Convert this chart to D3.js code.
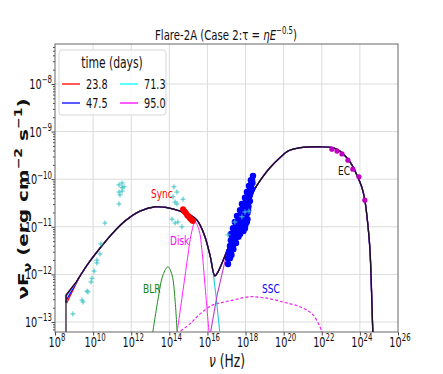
<html>
<head>
  <title>Flare-2A SED</title>
  <meta charset="utf-8" />
<script src="https://d3js.org/d3.v7.min.js"></script>
</head>
<style>
  body { margin: 0; background: #fff; }
  svg { display: block; }
  text { font-family: "DejaVu Sans", sans-serif; }
</style>
<body>
<svg class="main" width="443" height="374"></svg>
<script>

// all values are log10(nu / Hz), log10(nuFnu / erg cm^-2 s^-1)
const xTicks = [8, 10, 12, 14, 16, 18, 20, 22, 24, 26]
const yTicks = [-13, -12, -11, -10, -9, -8]

const times = ["23.8", "47.5", "71.3", "95.0"]
const timeColors = ["#ff0000", "#0000ff", "#00ffff", "#ff00ff"]

// low-frequency start of each time curve (they merge after that)
const startRed     = [[8.58, -13.5], [8.58, -12.63], [9.2, -12.12]]
const startBlue    = [[8.58, -13.5], [8.58, -12.55], [9.2, -12.12]]
const startCyan    = [[8.58, -13.5], [8.58, -12.48], [9.2, -12.12]]
const startMagenta = [[8.58, -13.5], [8.58, -12.45], [9.2, -12.12]]
const startBlack   = [[8.58, -13.5], [8.58, -12.43], [9.15, -12.14]]

const totalModel = [
  [9.15, -12.14], [9.73, -11.78], [10.36, -11.45], [10.99, -11.15], [11.67, -10.88],
  [12.46, -10.67], [13.25, -10.58], [14.03, -10.61], [14.56, -10.67],
  [15.08, -10.75], [15.45, -10.86], [15.61, -10.96], [15.87, -11.21], [16.13, -11.59],
  [16.39, -12.03], [16.55, -11.95], [17.08, -11.45], [17.44, -11.11], [17.97, -10.65],
  [18.39, -10.27], [18.85, -9.98], [19.28, -9.76], [19.8, -9.55], [20.22, -9.41],
  [20.85, -9.34], [21.9, -9.32], [22.59, -9.34], [22.95, -9.41], [23.32, -9.55],
  [23.58, -9.7], [23.84, -9.91], [24.11, -10.18], [24.26, -10.44], [24.42, -10.96],
  [24.53, -11.49], [24.68, -13.21], [24.72, -13.5]
]
const syncTail = [[16.13, -11.59], [16.24, -11.76], [16.45, -12.45], [16.72, -13.5]]
const ecRise   = [[16.04, -13.5], [16.5, -12.45], [17.08, -11.45]]
const blr  = [[13.1, -13.3], [13.4, -12.54], [13.67, -12.01], [13.93, -11.84], [14.14, -12.01], [14.3, -12.54], [14.42, -13.3]]
const disk = [[14.38, -13.3], [14.72, -12.33], [14.98, -11.59], [15.14, -11.17], [15.35, -10.9],
              [15.56, -11.07], [15.71, -11.49], [15.87, -12.22], [16.1, -13.3]]
const ssc  = [[14.38, -13.25], [15.08, -13.04], [15.61, -12.83], [16.29, -12.64], [16.66, -12.6],
              [17.34, -12.54], [18.23, -12.47], [19.12, -12.5], [19.96, -12.58], [20.85, -12.68],
              [21.54, -12.85], [22.06, -13.25]]

// data
const optX = [14.72, 14.77, 14.82, 14.87, 14.93, 14.98, 15.03, 15.08, 15.14, 15.19, 15.24]
const optY = [-10.63, -10.67, -10.69, -10.71, -10.75, -10.77, -10.79, -10.82, -10.84, -10.86, -10.88]

const xrayX = [17.08, 17.08, 17.18, 17.13, 17.23, 17.18, 17.29, 17.34, 17.23, 17.34, 17.44,
               17.23, 17.39, 17.55, 17.71, 17.34, 17.5, 17.65, 17.81, 17.97,
               17.44, 17.6, 17.76, 17.92, 18.07, 17.55, 17.71, 17.86, 18.02,
               17.71, 17.86, 18.02, 18.13, 17.81, 17.97, 18.13, 17.97, 18.07, 18.18,
               18.07, 18.18, 18.28, 18.18, 18.28, 18.28, 18.34, 18.39,
               17.16, 17.26, 17.21, 17.36, 17.29, 17.39, 17.5, 17.31, 17.47, 17.63,
               17.42, 17.58, 17.73, 17.89, 17.52, 17.68, 17.84, 17.99,
               17.63, 17.79, 17.94, 18.1, 17.79, 17.94, 18.1, 17.89, 18.05, 18.15,
               18.02, 18.13, 18.23, 18.13, 18.23, 18.23, 18.34, 18.31, 18.36]
const xrayY = [-11.78, -11.66, -11.66, -11.53, -11.53, -11.4, -11.4, -11.4, -11.28, -11.28, -11.28,
               -11.15, -11.15, -11.15, -11.15, -11.03, -11.03, -11.03, -11.03, -11.03,
               -10.9, -10.9, -10.9, -10.9, -10.9, -10.77, -10.77, -10.77, -10.77,
               -10.65, -10.65, -10.65, -10.65, -10.52, -10.52, -10.52, -10.39, -10.39, -10.39,
               -10.27, -10.27, -10.27, -10.14, -10.14, -10.02, -10.02, -9.93,
               -11.59, -11.59, -11.47, -11.47, -11.34, -11.34, -11.34, -11.21, -11.21, -11.21,
               -11.09, -11.09, -11.09, -11.09, -10.96, -10.96, -10.96, -10.96,
               -10.84, -10.84, -10.84, -10.84, -10.71, -10.71, -10.71, -10.58, -10.58, -10.58,
               -10.46, -10.46, -10.46, -10.33, -10.33, -10.21, -10.21, -10.08, -10.08]

const gammaX = [22.53, 22.8, 23.06, 23.37, 23.63, 23.95, 24.26]
const gammaY = [-9.37, -9.41, -9.47, -9.6, -9.79, -9.95, -10.44]

const archX = [8.94, 9.42, 9.47, 9.68, 9.73, 9.89, 9.94, 10.05, 10.2, 10.2, 10.36, 10.41, 10.62,
               11.36, 11.52, 11.52, 11.36, 11.52, 11.41, 11.36, 11.62,
               14.24, 14.4, 14.19, 14.3, 14.4, 14.72, 14.14, 14.3, 14.45, 14.66,
               17.08, 17.44, 17.81, 17.97, 18.18]
const archY = [-12.83, -12.54, -12.58, -12.35, -12.37, -12.16, -12.08, -11.93, -11.76, -11.7, -11.57, -11.36, -10.92,
               -10.12, -10.08, -10.18, -10.27, -10.25, -10.33, -10.52, -10.16,
               -10.16, -10.27, -10.37, -10.48, -10.52, -10.42, -10.84, -10.92, -10.9, -11.0,
               -11.17, -10.9, -10.79, -10.69, -10.67]

const svg = d3.select("svg")
const mLeft = 55, mRight = 398, mTop = 44, mBottom = 332
const sx = 0.72  // glyphs in the reference are squeezed horizontally

const x = d3.scaleLog().domain([1e8, 1e26]).range([mLeft, mRight])
const y = d3.scaleLog().domain([Math.pow(10, -13.21), Math.pow(10, -7.16)]).range([mBottom, mTop])
const px = v => x(Math.pow(10, v))
const py = v => y(Math.pow(10, v))

svg.append("defs").append("clipPath").attr("id", "plot")
  .append("rect").attr("x", mLeft).attr("y", mTop).attr("width", mRight - mLeft).attr("height", mBottom - mTop)

// grid
svg.append("g").selectAll("line").data(xTicks.slice(1, -1)).enter().append("line")
  .attr("x1", d => px(d)).attr("x2", d => px(d)).attr("y1", mTop).attr("y2", mBottom)
  .style("stroke", "#dcdcdc")
svg.append("g").selectAll("line").data(yTicks).enter().append("line")
  .attr("y1", d => py(d)).attr("y2", d => py(d)).attr("x1", mLeft).attr("x2", mRight)
  .style("stroke", "#dcdcdc")

// axes
svg.append("g").attr("transform", `translate(0,${mBottom})`)
  .call(d3.axisBottom(x).tickValues(xTicks.map(d => Math.pow(10, d))).tickFormat(() => "").tickSizeOuter(0).tickSize(3.5))
const yMinor = []
for (let e = -14; e <= -8; e++) for (let m = 2; m <= 9; m++) yMinor.push(m * Math.pow(10, e))
svg.append("g").attr("transform", `translate(${mLeft},0)`)
  .call(d3.axisLeft(y).tickValues(yMinor.filter(v => v >= y.domain()[0] && v <= y.domain()[1])).tickFormat(() => "").tickSizeOuter(0).tickSize(2))
svg.append("g").attr("transform", `translate(${mLeft},0)`)
  .call(d3.axisLeft(y).tickValues(yTicks.map(d => Math.pow(10, d))).tickFormat(() => "").tickSizeOuter(0).tickSize(3.5))
svg.selectAll(".domain").remove()
svg.selectAll(".tick line").style("stroke", "#444")

function powLabel(g, tx, ty, exp, anchor, size) {
  const t = g.append("text")
    .attr("transform", `translate(${tx},${ty}) scale(${sx},1)`)
    .attr("text-anchor", anchor)
    .style("font-size", size + "px").style("fill", "#111")
  t.append("tspan").text("10")
  t.append("tspan").attr("dy", -size * 0.42).style("font-size", (size * 0.72) + "px").text(exp)
}
xTicks.forEach(d => powLabel(svg, px(d) + 2, 347, String(d), "middle", 13.5))
yTicks.forEach(d => powLabel(svg, mLeft - 3, py(d) + 5, "\u2212" + (-d), "end", 13.5))

// frame
svg.append("rect").attr("x", mLeft).attr("y", mTop).attr("width", mRight - mLeft).attr("height", mBottom - mTop)
  .style("fill", "none").style("stroke", "#666").style("stroke-width", 1)

const line = d3.line().x(d => px(d[0])).y(d => py(d[1])).curve(d3.curveCatmullRom)
const lineLin = d3.line().x(d => px(d[0])).y(d => py(d[1]))
const plot = svg.append("g").attr("clip-path", "url(#plot)")

function curve(data, color, width, dash, gen) {
  plot.append("path").datum(data).attr("d", gen || line)
    .style("fill", "none").style("stroke", color).style("stroke-width", width)
    .style("stroke-dasharray", dash || null)
}

// components
curve(blr, "#1f8a1f", 1)
curve(disk, "#ff22ff", 1)
curve(ssc, "#ee22ee", 1.2, "3,2")
curve(syncTail, "#22c8e0", 1.1, null, lineLin)
curve(ecRise, "#c03cd0", 1.1, null, lineLin)

// time curves
const starts = [startRed, startBlue, startCyan, startMagenta]
starts.forEach((s, i) => {
  curve(s, timeColors[i], 1.2, null, lineLin)
  curve(totalModel, timeColors[i], 1.2)
})
curve(startBlack, "#111", 1.4, null, lineLin)
curve(totalModel, "#1a0f24", 1.4)
plot.append("line").attr("x1", px(8.58)).attr("x2", px(8.58)).attr("y1", py(-13.5)).attr("y2", py(-12.6))
  .style("stroke", "#888").style("stroke-width", 1.4)

// data points
plot.append("g").selectAll("circle").data(d3.range(xrayX.length)).enter().append("circle")
  .attr("cx", i => px(xrayX[i])).attr("cy", i => py(xrayY[i])).attr("r", 3.2).style("fill", "#0000ff")
plot.append("g").selectAll("circle").data(d3.range(optX.length)).enter().append("circle")
  .attr("cx", i => px(optX[i])).attr("cy", i => py(optY[i])).attr("r", 3).style("fill", "#ff0000")
plot.append("g").selectAll("circle").data(d3.range(gammaX.length)).enter().append("circle")
  .attr("cx", i => px(gammaX[i])).attr("cy", i => py(gammaY[i])).attr("r", 2.6).style("fill", "#c000c0")
plot.append("g").selectAll("path").data(d3.range(archX.length)).enter().append("path")
  .attr("d", i => {
    const cx = px(archX[i]), cy = py(archY[i])
    return `M${cx - 2.5},${cy}H${cx + 2.5}M${cx},${cy - 2.5}V${cy + 2.5}`
  })
  .style("stroke", "#40c4c8").style("stroke-width", 1)

function label(tx, ty, str, color, size, anchor) {
  return svg.append("text").attr("transform", `translate(${tx},${ty}) scale(${sx},1)`)
    .attr("text-anchor", anchor || "start").style("font-size", size + "px").style("fill", color).text(str)
}
label(151, 198, "Sync", "#ff0000", 12.5)
label(170, 245, "Disk", "#ff00ff", 12.5)
label(143, 293, "BLR", "#118811", 12.5)
label(262, 293, "SSC", "#0000ff", 12.5)
label(338, 175, "EC", "#111", 12.5)

// title
const title = svg.append("text").attr("transform", `translate(226,40) scale(0.7,1)`)
  .attr("text-anchor", "middle").style("font-size", "14.5px").style("fill", "#111")
title.append("tspan").text("Flare-2A (Case 2:\u03c4 = ")
title.append("tspan").style("font-style", "italic").text("\u03b7E")
title.append("tspan").attr("dy", -6).style("font-size", "10px").text("\u22120.5")
title.append("tspan").attr("dy", 6).text(")")

// axis labels
const xl = svg.append("text").attr("transform", `translate(227,367) scale(${sx},1)`)
  .attr("text-anchor", "middle").style("font-size", "17px").style("fill", "#111")
xl.append("tspan").style("font-style", "italic").text("\u03bd")
xl.append("tspan").text(" (Hz)")

const yl = svg.append("text").attr("transform", `translate(28,199) scale(${sx},1) rotate(-90)`)
  .attr("text-anchor", "middle").style("font-size", "20px").style("font-weight", "bold").style("fill", "#111")
yl.append("tspan").text("\u03bdF")
yl.append("tspan").attr("dy", 4).style("font-size", "14px").text("\u03bd")
yl.append("tspan").attr("dy", -4).text(" (erg cm")
yl.append("tspan").attr("dy", -8).style("font-size", "14px").text("\u22122")
yl.append("tspan").attr("dy", 8).text(" s")
yl.append("tspan").attr("dy", -8).style("font-size", "14px").text("\u22121")
yl.append("tspan").attr("dy", 8).text(")")

// legend
const lg = svg.append("g")
lg.append("rect").attr("x", 59).attr("y", 50).attr("width", 107).attr("height", 65).attr("rx", 3)
  .style("fill", "#fff").style("fill-opacity", 0.85).style("stroke", "#d6d6d6")
label(112, 68, "time (days)", "#111", 15, "middle")
times.forEach((t, i) => {
  const col = i < 2 ? 0 : 1, row = i % 2
  const lx = 62 + col * 58, ly = 84 + row * 19
  lg.append("line").attr("x1", lx).attr("x2", lx + 18).attr("y1", ly).attr("y2", ly)
    .style("stroke", timeColors[i]).style("stroke-width", 1.3)
  label(lx + 24, ly + 5, t, "#111", 13.5)
})

</script>
</body>
</html>
